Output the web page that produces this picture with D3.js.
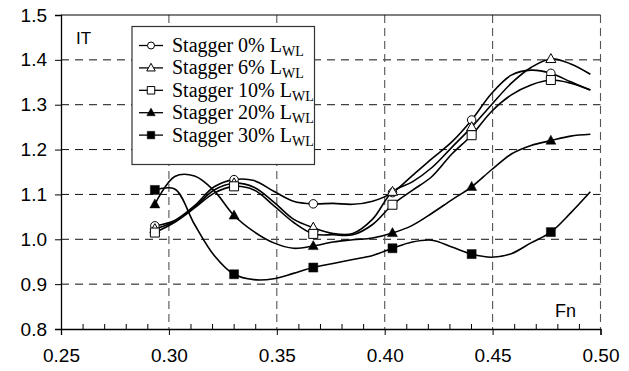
<!DOCTYPE html>
<html>
<head>
<meta charset="utf-8">
<script src="https://cdn.jsdelivr.net/npm/d3@7"></script>
<style>
  html, body { margin: 0; padding: 0; background: #fff; }
  svg { display: block; }
</style>
</head>
<body>
<svg id="chart" width="629" height="371"></svg>
<script>
// ---------- data ----------
const xTicks = [0.25, 0.30, 0.35, 0.40, 0.45, 0.50];
const xMinorTicks = [0.26,0.27,0.28,0.29,0.31,0.32,0.33,0.34,0.36,0.37,0.38,0.39,0.41,0.42,0.43,0.44,0.46,0.47,0.48,0.49];
const yTicks = [0.8, 0.9, 1.0, 1.1, 1.2, 1.3, 1.4, 1.5];

// Fn values of the measured points (markers)
const fnMarkers = [0.2935, 0.3302, 0.3669, 0.4036, 0.4403, 0.4770];
const fnCurve = [0.2935, 0.3027, 0.3119, 0.3210, 0.3302, 0.3394, 0.3486, 0.3577,
                 0.3669, 0.3761, 0.3852, 0.3944, 0.4036, 0.4128, 0.4219, 0.4311,
                 0.4403, 0.4495, 0.4587, 0.4678, 0.4770, 0.4862, 0.4953];

const seriesNames = ["Stagger 0% L", "Stagger 6% L", "Stagger 10% L", "Stagger 20% L", "Stagger 30% L"];
const seriesSub = "WL";
const seriesSymbols = ["circle", "triangle", "square", "triangle", "square"];
const seriesFilled = [false, false, false, true, true];

const markers0  = [1.030, 1.133, 1.079, 1.104, 1.266, 1.370];
const markers6  = [1.023, 1.125, 1.026, 1.106, 1.250, 1.402];
const markers10 = [1.015, 1.118, 1.012, 1.077, 1.232, 1.355];
const markers20 = [1.078, 1.053, 0.985, 1.014, 1.117, 1.220];
const markers30 = [1.110, 0.922, 0.937, 0.980, 0.967, 1.016];

const curve0  = [1.030, 1.042, 1.075, 1.117, 1.133, 1.131, 1.107, 1.085, 1.079, 1.080, 1.078, 1.085,
                 1.104, 1.142, 1.180, 1.217, 1.266, 1.325, 1.366, 1.377, 1.370, 1.351, 1.333];
const curve6  = [1.023, 1.040, 1.072, 1.110, 1.125, 1.116, 1.083, 1.045, 1.026, 1.013, 1.013, 1.045,
                 1.106, 1.128, 1.160, 1.205, 1.250, 1.300, 1.348, 1.383, 1.402, 1.391, 1.368];
const curve10 = [1.015, 1.038, 1.070, 1.103, 1.118, 1.110, 1.075, 1.038, 1.012, 1.010, 1.010, 1.033,
                 1.077, 1.109, 1.140, 1.190, 1.232, 1.285, 1.322, 1.344, 1.355, 1.348, 1.333];
const curve20 = [1.078, 1.140, 1.141, 1.108, 1.053, 1.017, 0.992, 0.980, 0.985, 0.994, 0.999, 1.003,
                 1.014, 1.031, 1.058, 1.088, 1.117, 1.155, 1.190, 1.209, 1.220, 1.230, 1.234];
const curve30 = [1.110, 1.112, 1.033, 0.964, 0.922, 0.910, 0.912, 0.924, 0.937, 0.946, 0.955, 0.964,
                 0.980, 0.994, 0.998, 0.983, 0.967, 0.960, 0.968, 0.992, 1.016, 1.059, 1.106];

const markerData = [markers0, markers6, markers10, markers20, markers30];
const curveData = [curve0, curve6, curve10, curve20, curve30];

// ---------- layout ----------
const svg = d3.select("#chart");
const L = 61, R = 600.5, T = 15, B = 329;
const x = d3.scaleLinear().domain([0.25, 0.50]).range([L, R]);
const y = d3.scaleLinear().domain([0.8, 1.5]).range([B, T]);
const tickFont = "'Liberation Sans', Arial, sans-serif";

// grid
const grid = svg.append("g");
grid.selectAll("line.hg").data(yTicks.filter(v => v > 0.8 && v < 1.5)).join("line")
  .attr("x1", L).attr("x2", R).attr("y1", d => y(d)).attr("y2", d => y(d))
  .attr("stroke", "#111").attr("stroke-width", 1).attr("stroke-dasharray", "8,6");
grid.selectAll("line.vg").data(xTicks.filter(v => v > 0.25)).join("line")
  .attr("x1", d => x(d)).attr("x2", d => x(d)).attr("y1", T).attr("y2", B)
  .attr("stroke", "#555").attr("stroke-width", 1.1).attr("stroke-dasharray", "8,5");

// top frame
svg.append("line").attr("x1", L).attr("x2", R).attr("y1", y(1.5)).attr("y2", y(1.5))
  .attr("stroke", "#000").attr("stroke-width", 1.2);

// axes
const xAxis = d3.axisBottom(x).tickValues(xTicks).tickFormat(d3.format(".2f"))
  .tickSize(6).tickPadding(14);
const gx = svg.append("g").attr("transform", `translate(0,${B})`).call(xAxis);
gx.select(".domain").attr("stroke", "#000").attr("stroke-width", 1.3);
gx.selectAll(".tick line").attr("stroke", "#000");
gx.selectAll("text").attr("font-family", tickFont).attr("font-size", 19).attr("fill", "#000");

// minor ticks (inside)
const xMinor = d3.axisTop(x).tickValues(xMinorTicks).tickSize(5).tickFormat("");
const gxm = svg.append("g").attr("transform", `translate(0,${B})`).call(xMinor);
gxm.select(".domain").remove();
gxm.selectAll(".tick line").attr("stroke", "#000");

const yAxis = d3.axisLeft(y).tickValues(yTicks).tickFormat(d3.format(".1f"))
  .tickSize(6).tickPadding(8);
const gy = svg.append("g").attr("transform", `translate(${L},0)`).call(yAxis);
gy.select(".domain").attr("stroke", "#000").attr("stroke-width", 1.3);
gy.selectAll(".tick line").attr("stroke", "#000");
gy.selectAll("text").attr("font-family", tickFont).attr("font-size", 19).attr("fill", "#000");

// curves
const line = d3.line().x((d, i) => x(fnCurve[i])).y(d => y(d)).curve(d3.curveCatmullRom.alpha(0.5));
svg.append("g").selectAll("path").data(curveData).join("path")
  .attr("d", d => line(d)).attr("fill", "none").attr("stroke", "#000").attr("stroke-width", 1.6);

// markers
function symbolPath(type, s) {
  if (type === "circle") return d3.symbol(d3.symbolCircle, Math.PI * (s / 2) * (s / 2))();
  if (type === "square") return d3.symbol(d3.symbolSquare, s * s)();
  // triangle with base s
  const h = s * 0.9;
  return `M0,${-h * 0.6}L${s / 2},${h * 0.4}L${-s / 2},${h * 0.4}Z`;
}
const mg = svg.append("g");
markerData.forEach((vals, si) => {
  const size = seriesSymbols[si] === "square" ? 9 : (seriesSymbols[si] === "circle" ? 8.5 : 10);
  mg.append("g").selectAll("path").data(vals).join("path")
    .attr("transform", (d, i) => `translate(${x(fnMarkers[i])},${y(d)})`)
    .attr("d", symbolPath(seriesSymbols[si], size))
    .attr("fill", seriesFilled[si] ? "#000" : "#fff")
    .attr("stroke", "#000").attr("stroke-width", seriesFilled[si] ? 0.5 : 1);
});

// legend
const lg = svg.append("g");
lg.append("rect").attr("x", 132).attr("y", 26.5).attr("width", 182.5).attr("height", 138)
  .attr("fill", "#fff").attr("stroke", "#333").attr("stroke-width", 1.2);
seriesNames.forEach((name, i) => {
  const by = 52 + i * 22.4;
  const cy = by - 6.5;
  lg.append("line").attr("x1", 139).attr("x2", 163).attr("y1", cy).attr("y2", cy)
    .attr("stroke", "#000").attr("stroke-width", 1.3);
  const size = seriesSymbols[i] === "square" ? 7.5 : (seriesSymbols[i] === "circle" ? 7 : 8.5);
  lg.append("path").attr("transform", `translate(151,${cy})`)
    .attr("d", symbolPath(seriesSymbols[i], size))
    .attr("fill", seriesFilled[i] ? "#000" : "#fff")
    .attr("stroke", "#000").attr("stroke-width", seriesFilled[i] ? 0.5 : 1);
  const t = lg.append("text").attr("x", 172).attr("y", by)
    .attr("font-family", "'Liberation Serif', 'Times New Roman', serif")
    .attr("font-size", 20).attr("fill", "#000");
  t.append("tspan").text(name);
  t.append("tspan").attr("font-size", 14).attr("dy", 4).text(seriesSub);
});

// axis titles
svg.append("text").attr("x", 76).attr("y", 43.5).text("IT")
  .attr("font-family", tickFont).attr("font-size", 17).attr("fill", "#000");
svg.append("text").attr("x", 555).attr("y", 316.5).text("Fn")
  .attr("font-family", tickFont).attr("font-size", 18).attr("fill", "#000");
</script>
</body>
</html>
